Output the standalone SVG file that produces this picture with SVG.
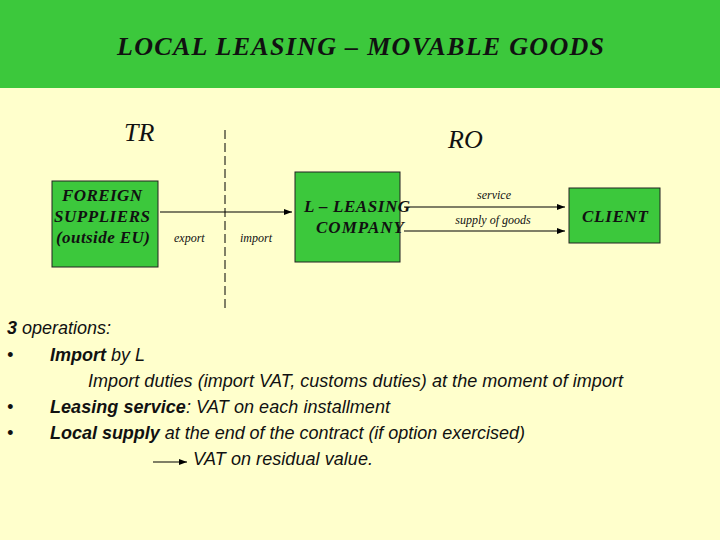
<svg xmlns="http://www.w3.org/2000/svg" width="720" height="540" viewBox="0 0 720 540">
<style>
.box{fill:#3CC83C;stroke:#222;stroke-width:1}
.bt{font-family:"Liberation Serif",serif;font-style:italic;font-weight:bold;font-size:17px;fill:#111;text-anchor:middle}
.sm{font-family:"Liberation Serif",serif;font-style:italic;font-size:12px;fill:#111}
.big{font-family:"Liberation Serif",serif;font-style:italic;font-size:26px;fill:#111}
.tx{font-family:"Liberation Sans",sans-serif;font-style:italic;font-size:18px;fill:#111}
.ln{stroke:#000;stroke-width:1.2;fill:none}
</style>
<defs><marker id="ah" markerWidth="8" markerHeight="8" refX="8" refY="4" orient="auto" markerUnits="userSpaceOnUse"><path d="M0,1 L8,4 L0,7 z" fill="#000"/></marker></defs>
<rect width="720" height="540" fill="#FFFFCC"/>
<rect width="720" height="88" fill="#3CC83C"/>
<text x="117" y="55" textLength="487" font-family="Liberation Serif,serif" font-style="italic" font-weight="bold" font-size="26" fill="#111">LOCAL LEASING – MOVABLE GOODS</text>
<text x="124" y="141" class="big">TR</text>
<text x="448" y="148" class="big">RO</text>
<g id="connectors">
<line x1="225" y1="130" x2="225" y2="310" stroke="#000" stroke-width="1" stroke-dasharray="9,4"/>
<line x1="160" y1="212" x2="292" y2="212" class="ln" marker-end="url(#ah)"/>
<line x1="404" y1="207" x2="565" y2="207" class="ln" marker-end="url(#ah)"/>
<line x1="404" y1="231" x2="565" y2="231" class="ln" marker-end="url(#ah)"/>
<line x1="153" y1="462" x2="187" y2="462" class="ln" marker-end="url(#ah)"/>
<text x="174" y="242" class="sm">export</text>
<text x="240" y="242" class="sm">import</text>
<text x="494" y="199" class="sm" text-anchor="middle">service</text>
<text x="493" y="224" class="sm" text-anchor="middle">supply of goods</text>
</g>
<g id="foreign"><rect x="52" y="181" width="106" height="86" class="box"/>
<text x="102" y="201" class="bt" textLength="80">FOREIGN</text><text x="102" y="222" class="bt" textLength="96">SUPPLIERS</text><text x="103" y="243" class="bt" textLength="94">(outside EU)</text></g>
<g id="leasing"><rect x="295" y="172" width="105" height="90" class="box"/>
<text x="357" y="212" class="bt" textLength="106">L – LEASING</text><text x="360" y="233" class="bt" textLength="88">COMPANY</text></g>
<g id="client"><rect x="569" y="188" width="91" height="55" class="box"/>
<text x="615" y="222" class="bt" textLength="66">CLIENT</text></g>
<text x="7" y="334" class="tx"><tspan font-weight="bold">3</tspan> operations:</text>
<text x="7" y="361" class="tx">•</text><text x="50" y="361" class="tx"><tspan font-weight="bold">Import</tspan> by L</text>
<text x="88" y="387" class="tx" textLength="535">Import duties (import VAT, customs duties) at the moment of import</text>
<text x="7" y="413" class="tx">•</text><text x="50" y="413" class="tx" textLength="340"><tspan font-weight="bold">Leasing service</tspan>: VAT on each installment</text>
<text x="7" y="439" class="tx">•</text><text x="50" y="439" class="tx" textLength="475"><tspan font-weight="bold">Local supply</tspan> at the end of the contract (if option exercised)</text>
<text x="193" y="465" class="tx" textLength="180">VAT on residual value.</text>
</svg>
